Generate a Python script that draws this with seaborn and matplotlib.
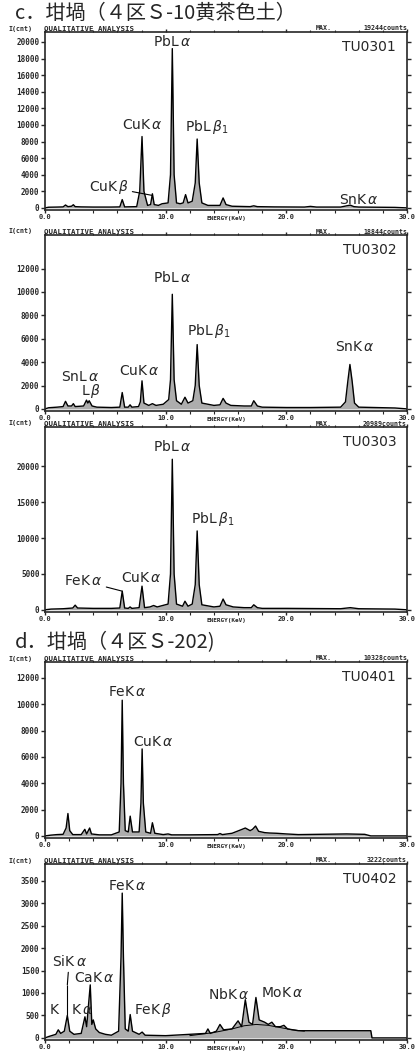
import numpy as np
import pandas as pd
import matplotlib
matplotlib.use("Agg")
import matplotlib.pyplot as plt
from matplotlib.ticker import MultipleLocator
import seaborn as sns

# 蛍光X線スペクトル (energy keV, counts) -- 図から読み取った頂点
tu0301 = [(0.0, 0), (0.3, 80), (1.0, 100), (1.5, 120), (1.7, 350), (1.9, 150), (2.2, 200),
          (2.35, 380), (2.5, 150), (3.0, 120), (4.0, 100), (5.5, 100), (6.2, 120), (6.4, 1000),
          (6.6, 120), (7.6, 150), (7.85, 2000), (8.04, 8600), (8.2, 2000), (8.5, 300),
          (8.75, 400), (8.9, 1700), (9.05, 400), (9.4, 300), (9.7, 500), (10.2, 600),
          (10.4, 4000), (10.55, 19200), (10.7, 4000), (10.9, 600), (11.2, 500), (11.45, 600),
          (11.65, 1600), (11.85, 600), (12.2, 800), (12.45, 3000), (12.61, 8300), (12.78, 3000),
          (13.0, 600), (13.5, 300), (14.5, 300), (14.76, 1200), (15.0, 400), (15.5, 200),
          (17.0, 150), (17.3, 250), (17.6, 150), (19.0, 120), (21.5, 100), (22.0, 180),
          (22.5, 100), (24.5, 100), (25.0, 250), (25.3, 330), (25.6, 150), (26.0, 100),
          (29.0, 60), (30.0, 0)]
tu0302 = [(0.0, 0), (0.3, 100), (1.0, 150), (1.5, 200), (1.7, 650), (1.9, 250), (2.2, 250),
          (2.35, 450), (2.5, 200), (3.2, 250), (3.44, 750), (3.55, 500), (3.66, 700), (3.9, 250),
          (4.3, 150), (5.5, 120), (6.2, 150), (6.4, 1400), (6.6, 150), (6.9, 150), (7.05, 350),
          (7.2, 150), (7.75, 200), (7.9, 600), (8.04, 2400), (8.2, 500), (8.6, 300), (8.9, 450),
          (9.2, 300), (9.8, 400), (10.25, 800), (10.4, 2500), (10.55, 9800), (10.7, 2500),
          (10.9, 700), (11.3, 400), (11.6, 1000), (11.85, 500), (12.25, 700), (12.45, 2000),
          (12.61, 5500), (12.78, 2000), (13.0, 500), (14.0, 300), (14.5, 350), (14.76, 900),
          (15.0, 500), (15.4, 300), (16.5, 250), (17.1, 250), (17.3, 700), (17.6, 250),
          (18.0, 150), (20.0, 120), (22.0, 120), (24.5, 150), (24.9, 600), (25.1, 2400),
          (25.27, 3800), (25.45, 2400), (25.65, 500), (26.0, 150), (29.0, 80), (30.0, 0)]
tu0303 = [(0.0, 0), (0.5, 100), (1.5, 150), (2.3, 250), (2.5, 650), (2.7, 250), (4.0, 200),
          (5.5, 200), (6.2, 250), (6.4, 2600), (6.6, 250), (6.9, 200), (7.05, 400), (7.2, 200),
          (7.8, 300), (8.04, 3300), (8.25, 300), (8.7, 400), (9.0, 600), (9.3, 400), (10.2, 800),
          (10.4, 5000), (10.55, 21000), (10.7, 5000), (10.9, 800), (11.4, 500), (11.6, 1200),
          (11.85, 500), (12.2, 800), (12.45, 3500), (12.61, 11000), (12.78, 3500), (13.0, 700),
          (14.0, 400), (14.5, 500), (14.76, 1500), (15.0, 700), (15.6, 400), (16.5, 300),
          (17.1, 300), (17.3, 700), (17.6, 300), (18.0, 200), (20.0, 200), (24.5, 150),
          (25.3, 300), (26.0, 150), (29.0, 100), (30.0, 0)]
tu0401 = [(0.0, 0), (0.5, 60), (1.0, 100), (1.5, 120), (1.75, 600), (1.9, 1700), (2.05, 400),
          (2.3, 100), (3.0, 100), (3.3, 500), (3.45, 150), (3.7, 600), (3.85, 150), (4.5, 80),
          (5.5, 80), (6.15, 300), (6.3, 4000), (6.4, 10300), (6.5, 4000), (6.65, 400), (6.9, 300),
          (7.06, 1500), (7.25, 300), (7.8, 300), (7.95, 2500), (8.05, 6600), (8.15, 2500),
          (8.35, 300), (8.75, 200), (8.9, 1000), (9.1, 200), (9.8, 100), (10.2, 150), (10.5, 80),
          (12.0, 80), (14.3, 100), (14.5, 180), (14.7, 100), (15.5, 200), (16.2, 450), (16.6, 600),
          (17.0, 400), (17.2, 500), (17.45, 750), (17.7, 350), (18.2, 250), (18.6, 220),
          (19.2, 200), (20.0, 150), (21.0, 100), (25.0, 150), (26.5, 120), (27.0, 0), (30.0, 0)]
tu0402 = [(0.0, 0), (0.3, 30), (0.9, 80), (1.1, 180), (1.3, 100), (1.6, 150), (1.85, 500),
          (2.05, 150), (2.4, 80), (3.0, 100), (3.31, 470), (3.45, 250), (3.75, 1180), (3.88, 300),
          (4.0, 400), (4.2, 200), (4.5, 120), (5.0, 80), (5.5, 60), (6.1, 150), (6.3, 1800),
          (6.4, 3222), (6.5, 1800), (6.65, 200), (6.9, 150), (7.06, 520), (7.25, 150), (7.8, 80),
          (8.05, 130), (8.3, 60), (10.0, 50), (12.0, 80), (13.3, 100), (13.5, 200), (13.7, 100),
          (14.2, 150), (14.5, 300), (14.8, 180), (15.5, 200), (16.0, 380), (16.3, 250),
          (16.6, 850), (16.9, 350), (17.2, 300), (17.48, 900), (17.75, 400), (18.2, 350),
          (18.5, 300), (18.8, 350), (19.1, 250), (19.5, 250), (19.8, 280), (20.1, 200),
          (21.0, 160), (24.0, 160), (27.0, 160), (27.1, 0), (30.0, 0)]
bg0402 = [(12.0, 50), (14.0, 120), (15.5, 200), (16.5, 270), (17.5, 300), (18.5, 280),
          (19.5, 230), (20.5, 180), (21.5, 150)]

spectra = [tu0301, tu0302, tu0303, tu0401, tu0402]
sample_ids = ["TU0301", "TU0302", "TU0303", "TU0401", "TU0402"]
max_counts = ["19244", "18844", "20989", "10328", "3222"]
y_tops = [21200, 14870, 25500, 13200, 3870]
y_steps = [2000, 2000, 5000, 2000, 500]
y_last = [20000, 12000, 20000, 12000, 3500]

# ピーク名 (text, x keV, y counts, leader target or None)
peak_labels = [
    [(r"PbL$\,\alpha$", 10.55, 20100, None), (r"CuK$\,\alpha$", 8.05, 10000, None),
     (r"PbL$\,\beta_1$", 13.4, 9800, None), (r"CuK$\,\beta$", 5.3, 2500, (8.9, 1500)),
     (r"SnK$\,\alpha$", 26.0, 1000, None)],
    [(r"PbL$\,\alpha$", 10.55, 11200, None), (r"PbL$\,\beta_1$", 13.6, 6700, None),
     (r"SnK$\,\alpha$", 25.7, 5300, None), (r"CuK$\,\alpha$", 7.8, 3200, None),
     (r"SnL$\,\alpha$", 2.9, 2700, None), (r"L$\,\beta$", 3.8, 1500, None)],
    [(r"PbL$\,\alpha$", 10.55, 22800, None), (r"PbL$\,\beta_1$", 13.9, 12600, None),
     (r"FeK$\,\alpha$", 3.2, 4000, (6.4, 2600)), (r"CuK$\,\alpha$", 8.0, 4500, None)],
    [(r"FeK$\,\alpha$", 6.8, 10900, None), (r"CuK$\,\alpha$", 9.0, 7100, None)],
    [(r"FeK$\,\alpha$", 6.8, 3380, None), (r"SiK$\,\alpha$", 2.0, 1700, (1.85, 1180)),
     (r"CaK$\,\alpha$", 4.1, 1340, None), (r"K   K$\,\alpha$", 2.2, 620, None),
     (r"FeK$\,\beta$", 9.0, 620, None), (r"NbK$\,\alpha$", 15.2, 970, None),
     (r"MoK$\,\alpha$", 19.7, 990, None)],
]

sns.set_style("ticks")
plt.rcParams["font.family"] = ["DejaVu Sans"]
plt.rcParams["mathtext.fontset"] = "dejavusans"

W, H = 420, 1053
fig = plt.figure(figsize=(W / 100, H / 100), dpi=100)
fig.patch.set_facecolor("white")

# 各パネルの位置 (px, 上端/下端)
panel_px = [(32, 210), (235, 411), (427, 612), (662, 838), (864, 1040)]
left_px, right_px = 45, 407
mono = ["DejaVu Sans Mono"]
cjk = ["Noto Sans CJK JP", "DejaVu Sans"]

fig.text(15 / W, 1 - 13 / H, "c．坩堝（４区Ｓ-10黄茶色土）", family=cjk, fontsize=14.5, va="center")
fig.text(15 / W, 1 - 643 / H, "d．坩堝（４区Ｓ-202)", family=cjk, fontsize=14.5, va="center")

for i, spec in enumerate(spectra):
    top, bot = panel_px[i]
    ax = fig.add_axes([left_px / W, 1 - bot / H, (right_px - left_px) / W, (bot - top) / H])
    df = pd.DataFrame(spec, columns=["energy", "counts"])
    ax.fill_between(df["energy"], df["counts"], color="0.68", lw=0)
    sns.lineplot(data=df, x="energy", y="counts", ax=ax, color="black", lw=1.0,
                 estimator=None, sort=False)
    if i == 4:
        bg = pd.DataFrame(bg0402, columns=["energy", "counts"])
        sns.lineplot(data=bg, x="energy", y="counts", ax=ax, color="black", lw=0.7,
                     estimator=None, sort=False)
        # SiKα の引出線の縦部分
        ax.vlines(1.85, 500, 1180, color="black", lw=0.8)

    ax.set_xlim(0, 30)
    ax.set_ylim(-0.012 * y_tops[i], y_tops[i])
    ax.set_xlabel("")
    ax.set_ylabel("")
    ax.set_xticks([0, 10, 20, 30])
    ax.set_xticklabels(["0.0", "10.0", "20.0", "30.0"])
    ax.xaxis.set_minor_locator(MultipleLocator(2))
    ax.set_yticks(np.arange(0, y_last[i] + 1, y_steps[i]))
    ax.tick_params(axis="y", which="major", direction="out", length=3, width=1.0,
                   right=True, labelsize=5.5, pad=1)
    ax.tick_params(axis="x", which="major", direction="out", length=2.5, width=1.0,
                   top=True, labelsize=5, pad=0.3)
    ax.tick_params(axis="x", which="minor", direction="out", length=1.8, width=0.8,
                   top=True)
    for lab in ax.get_xticklabels() + ax.get_yticklabels():
        lab.set_family(mono)
        lab.set_fontweight("bold")
    for sp in ax.spines.values():
        sp.set_visible(True)
        sp.set_linewidth(1.2)

    ax.text(15, -0.035, "ENERGY(KeV)", transform=ax.get_xaxis_transform(), ha="center",
            va="top", fontsize=4.3, family=mono, fontweight="bold")
    ax.text(0.97, 0.955, sample_ids[i], transform=ax.transAxes, ha="right", va="top",
            fontsize=10)

    # ヘッダー行
    hy = 1 - (top - 0.5) / H
    fig.text(8 / W, hy, "I(cnt)", family=mono, fontweight="bold", fontsize=4.8, va="bottom")
    fig.text(44 / W, hy, "QUALITATIVE ANALYSIS", family=mono, fontweight="bold",
             fontsize=5.3, va="bottom")
    fig.text(316 / W, hy, "MAX.", family=mono, fontweight="bold", fontsize=4.8, va="bottom")
    fig.text(right_px / W, hy, max_counts[i] + "counts", family=mono, fontweight="bold",
             fontsize=4.8, va="bottom", ha="right")

    for text, x, y, tgt in peak_labels[i]:
        if tgt is None:
            ax.text(x, y, text, ha="center", va="center", fontsize=10)
        else:
            ax.annotate(text, xy=tgt, xytext=(x, y), ha="center", va="center", fontsize=10,
                        arrowprops=dict(arrowstyle="-", color="black", lw=0.8,
                                        shrinkA=0, shrinkB=0))

plt.savefig("out.png", dpi=100)
plt.close()
